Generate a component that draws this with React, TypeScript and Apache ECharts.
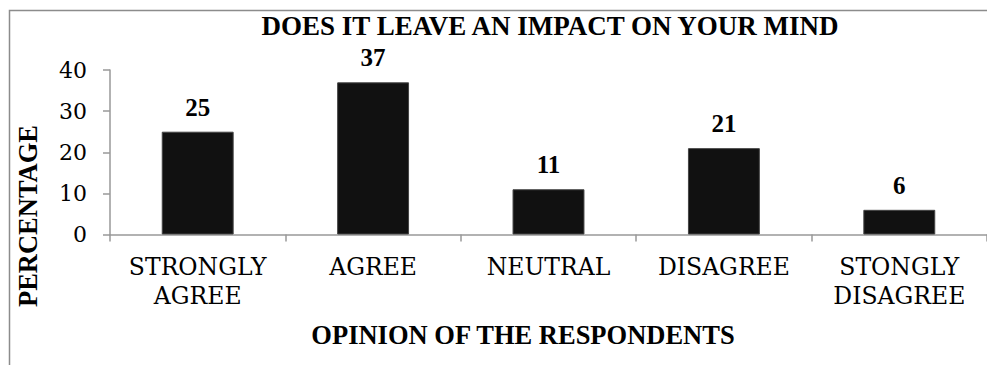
import React, { useEffect, useRef } from "react";
import * as echarts from "echarts";

const categories = [
  "STRONGLY\nAGREE",
  "AGREE",
  "NEUTRAL",
  "DISAGREE",
  "STONGLY\nDISAGREE",
];
const percentages = [25, 37, 11, 21, 6];
const yTicks = { min: 0, max: 40, interval: 10 };

const chartTitle = "DOES IT LEAVE AN IMPACT ON YOUR MIND";
const xName = "OPINION OF THE RESPONDENTS";
const yName = "PERCENTAGE";

const FONT = "Liberation Serif";
const FONT_REG = "DejaVu Serif";

export default function App() {
  const ref = useRef<HTMLDivElement>(null);

  useEffect(() => {
    if (!ref.current) return;
    const chart = echarts.init(ref.current, undefined, { renderer: "svg" });
    chart.setOption({
      animation: false,
      backgroundColor: "#ffffff",
      textStyle: { fontFamily: FONT },
      title: {
        text: chartTitle,
        left: 550,
        top: 11,
        textAlign: "center",
        padding: 0,
        textStyle: {
          fontFamily: FONT,
          fontWeight: "bold",
          fontSize: 27,
          lineHeight: 30,
          color: "#000",
        },
      },
      grid: { left: 110, right: -13, top: 70, bottom: 130.5, containLabel: false },
      xAxis: {
        type: "category",
        data: categories,
        axisLine: { lineStyle: { color: "#999", width: 1.5 } },
        axisTick: { show: true, length: 7, lineStyle: { color: "#999", width: 1.5 } },
        axisLabel: {
          interval: 0,
          margin: 18,
          fontFamily: FONT_REG,
          fontSize: 23.5,
          lineHeight: 29,
          color: "#000",
        },
      },
      yAxis: {
        type: "value",
        min: yTicks.min,
        max: yTicks.max,
        interval: yTicks.interval,
        splitLine: { show: false },
        axisLine: { show: true, lineStyle: { color: "#999", width: 1.5 } },
        axisTick: { show: true, length: 7, lineStyle: { color: "#999", width: 1.5 } },
        axisLabel: {
          margin: 23,
          fontFamily: FONT_REG,
          fontSize: 22,
          color: "#000",
        },
      },
      series: [
        {
          type: "bar",
          data: percentages,
          barWidth: "41%",
          itemStyle: { color: "#111111", borderColor: "#444", borderWidth: 1 },
          label: {
            show: true,
            position: "top",
            distance: 12,
            fontFamily: FONT,
            fontWeight: "bold",
            fontSize: 25,
            lineHeight: 25,
            color: "#000",
          },
        },
      ],
      graphic: [
        {
          type: "rect",
          silent: true,
          shape: { x: 9.5, y: 10.5, width: 1000, height: 400 },
          style: { fill: "none", stroke: "#8c8c8c", lineWidth: 1.5 },
        },
        {
          type: "text",
          x: 28,
          y: 216,
          rotation: Math.PI / 2,
          style: {
            text: yName,
            fontFamily: FONT,
            fontWeight: "bold",
            fontSize: 26.5,
            fill: "#000",
            align: "center",
            verticalAlign: "middle",
          },
        },
        {
          type: "text",
          x: 523,
          y: 335,
          style: {
            text: xName,
            fontFamily: FONT,
            fontWeight: "bold",
            fontSize: 26.5,
            fill: "#000",
            align: "center",
            verticalAlign: "middle",
          },
        },
      ],
    });
    return () => chart.dispose();
  }, []);

  return (
    <div
      ref={ref}
      style={{ position: "absolute", left: 0, top: 0, width: 987, height: 365 }}
    />
  );
}
